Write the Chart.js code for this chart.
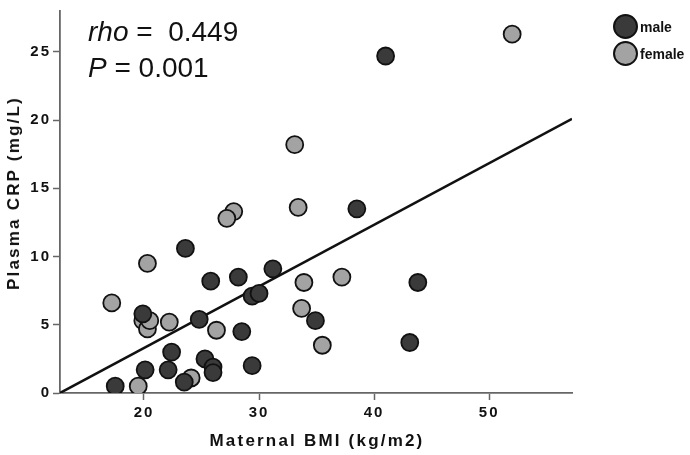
<!DOCTYPE html>
<html lang="en">
<head>
<meta charset="UTF-8">
<title>Plasma CRP vs Maternal BMI</title>
<script src="https://cdn.jsdelivr.net/npm/chart.js"></script>
<style>
  body { margin: 0; background: #fff; font-family: "Liberation Sans", Arial, sans-serif; }
  #wrap { position: relative; width: 690px; height: 455px; }
  .stat { position: absolute; left: 88px; font-size: 28px; color: #111; line-height: 1; }
  .leg { position: absolute; left: 613px; display: flex; align-items: center; font-weight: bold; font-size: 14px; color: #111; }
  .leg span.dot { width: 25px; height: 25px; border-radius: 50%; border: 2.5px solid #111; margin-right: 2px; box-sizing: border-box; }
  .axt { position: absolute; font-weight: bold; font-size: 17px; letter-spacing: 2.2px; color: #111; white-space: nowrap; }
</style>
</head>
<body>
<div id="wrap">
  <canvas id="crpChart" width="690" height="455"></canvas>
  <div class="stat" style="top:18px"><i>rho</i> =&nbsp; 0.449</div>
  <div class="stat" style="top:54px"><i>P</i> = 0.001</div>
  <div class="leg" style="top:14px"><span class="dot" style="background:#3a3a3a"></span>male</div>
  <div class="leg" style="top:41px"><span class="dot" style="background:#a3a3a3"></span>female</div>
  <div class="axt" style="left:317px; top:441px; transform: translate(-50%, -50%);">Maternal BMI (kg/m2)</div>
  <div class="axt" style="left:14px; top:193px; transform: translate(-50%, -50%) rotate(-90deg);">Plasma CRP (mg/L)</div>
</div>
<script>
// BMI (kg/m2) and CRP (mg/L)
const maleBMI = [17.5, 20.1, 19.9, 24.8, 28.5, 29.4, 30.0, 22.4, 25.3, 26.0, 26.0, 29.4, 22.1, 23.5, 23.6, 25.8, 28.2, 31.2, 38.5, 43.8, 34.9, 43.1, 41.0];
const maleCRP = [0.5, 1.7, 5.8, 5.4, 4.5, 7.1, 7.3, 3.0, 2.5, 1.9, 1.5, 2.0, 1.7, 0.8, 10.6, 8.2, 8.5, 9.1, 13.5, 8.1, 5.3, 3.7, 24.7];
const femaleBMI = [17.2, 19.9, 20.3, 20.5, 22.2, 26.3, 24.1, 19.5, 27.8, 27.2, 20.3, 33.4, 33.1, 33.9, 37.2, 33.7, 35.5, 52.0];
const femaleCRP = [6.6, 5.3, 4.7, 5.3, 5.2, 4.6, 1.1, 0.5, 13.3, 12.8, 9.5, 13.6, 18.2, 8.1, 8.5, 6.2, 3.5, 26.3];
// fit line end points
const fitBMI = [12.7, 57.2];
const fitCRP = [0, 20.1];
const xTicks = [20, 30, 40, 50];
const yTicks = [0, 5, 10, 15, 20, 25];

const pts = (xs, ys) => xs.map((x, i) => ({ x: x, y: ys[i] }));

// spaced tick digits like the original
const spacing = {
  id: 'spacing',
  beforeDraw(chart) { chart.ctx.letterSpacing = '2px'; }
};

new Chart(document.getElementById('crpChart'), {
  type: 'scatter',
  data: {
    datasets: [{
      type: 'line',
      label: 'fit',
      data: pts(fitBMI, fitCRP),
      borderColor: '#111',
      borderWidth: 2.5,
      pointRadius: 0,
      order: 3
    }, {
      label: 'female',
      data: pts(femaleBMI, femaleCRP),
      backgroundColor: '#a3a3a3',
      borderColor: '#111',
      borderWidth: 1.8,
      pointRadius: 8.5,
      order: 2
    }, {
      label: 'male',
      data: pts(maleBMI, maleCRP),
      backgroundColor: '#3a3a3a',
      borderColor: '#111',
      borderWidth: 1.8,
      pointRadius: 8.5,
      order: 1
    }]
  },
  options: {
    responsive: false,
    animation: false,
    layout: { padding: { top: 0, right: 118, left: 0, bottom: 0 } },
    plugins: { legend: { display: false }, tooltip: { enabled: false } },
    scales: {
      x: {
        type: 'linear', min: 12.7, max: 57.2,
        afterBuildTicks: s => { s.ticks = xTicks.map(v => ({ value: v })); },
        afterFit: s => { s.height = 62; },
        grid: { drawOnChartArea: false, color: '#666', tickLength: 7, tickWidth: 1.5 },
        border: { color: '#666', width: 1.8 },
        ticks: { color: '#111', font: { family: 'Liberation Sans', size: 15, weight: 'bold' }, padding: 4 }
      },
      y: {
        type: 'linear', min: 0, max: 28.0,
        afterBuildTicks: s => { s.ticks = yTicks.map(v => ({ value: v })); },
        afterFit: s => { s.width = 60; },
        grid: { drawOnChartArea: false, color: '#666', tickLength: 7, tickWidth: 1.5 },
        border: { color: '#666', width: 1.8 },
        ticks: { color: '#111', font: { family: 'Liberation Sans', size: 15, weight: 'bold' }, padding: 2 }
      }
    }
  },
  plugins: [spacing]
});
</script>
</body>
</html>
